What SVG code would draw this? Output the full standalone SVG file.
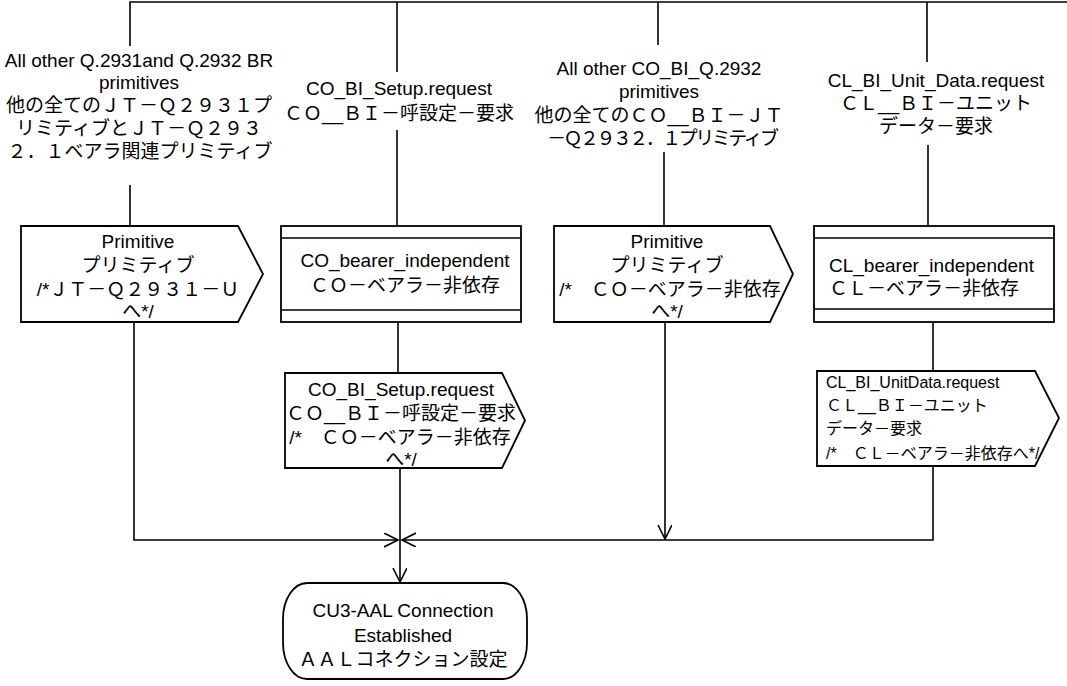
<svg xmlns="http://www.w3.org/2000/svg" width="1067" height="686" viewBox="0 0 1067 686">
<style>
.ln{stroke:#000;stroke-width:1.6;fill:none}
.sh{fill:#fff;stroke:#000;stroke-width:1.8}
text{font-family:"Liberation Sans","Noto Sans CJK JP",sans-serif;font-size:19px;fill:#000}
.c{text-anchor:middle}
.s{font-size:16px}
</style>
<defs>
<marker id="ah" markerWidth="16" markerHeight="16" refX="14" refY="7" orient="auto" markerUnits="userSpaceOnUse">
<path d="M0,0 L14,7 L0,14" fill="none" stroke="#000" stroke-width="1.6"/>
</marker>
</defs>
<rect width="1067" height="686" fill="#fff"/>
<g id="connectors">
<path class="ln" d="M130,46 V2 H1067"/>
<path class="ln" d="M397,2 V72"/>
<path class="ln" d="M658,2 V45"/>
<path class="ln" d="M927,2 V62"/>
<path class="ln" d="M130,185 V226"/>
<path class="ln" d="M397,130 V226"/>
<path class="ln" d="M664,152 V226"/>
<path class="ln" d="M928,145 V226"/>
<path class="ln" d="M134,322 V540 H398" marker-end="url(#ah)"/>
<path class="ln" d="M398,322 V373"/>
<path class="ln" d="M400,468 V582" marker-end="url(#ah)"/>
<path class="ln" d="M665,322 V539" marker-end="url(#ah)"/>
<path class="ln" d="M933,322 V371"/>
<path class="ln" d="M933,466 V540 H402" marker-end="url(#ah)"/>
</g>
<g id="in1">
<text class="c" x="139" y="66.5">All other Q.2931and Q.2932 BR</text>
<text class="c" x="139" y="89">primitives</text>
<text class="c" x="139" y="112">他の全てのＪＴ－Ｑ２９３１プ</text>
<text class="c" x="139" y="135">リミティブとＪＴ－Ｑ２９３</text>
<text class="c" x="140" y="158">２．１ベアラ関連プリミティブ</text>
</g>
<g id="in2">
<text class="c" x="399" y="95">CO_BI_Setup.request</text>
<text class="c" x="399" y="120">ＣＯ__ＢＩ－呼設定－要求</text>
</g>
<g id="in3">
<text class="c" x="659" y="75">All other CO_BI_Q.2932</text>
<text class="c" x="659" y="98">primitives</text>
<text class="c" x="659" y="122">他の全てのＣＯ__ＢＩ－ＪＴ</text>
<text class="c" x="663" y="145" textLength="232" lengthAdjust="spacing">－Ｑ２９３２．１プリミティブ</text>
</g>
<g id="in4">
<text class="c" x="936" y="86.5">CL_BI_Unit_Data.request</text>
<text class="c" x="936" y="110">ＣＬ__ＢＩ－ユニット</text>
<text class="c" x="936" y="133">データ－要求</text>
</g>
<g id="out1">
<path class="sh" d="M21,226 H238 L263,274 L238,322 H21 Z"/>
<text class="c" x="138" y="248">Primitive</text>
<text class="c" x="138" y="272">プリミティブ</text>
<text class="c" x="138" y="296">/*ＪＴ－Ｑ２９３１－Ｕ</text>
<text class="c" x="138" y="318">へ*/</text>
</g>
<g id="proc1">
<rect class="sh" x="281" y="226" width="240" height="96"/>
<path class="ln" d="M281,238 H521 M281,310 H521"/>
<text class="c" x="405" y="267">CO_bearer_independent</text>
<text class="c" x="405" y="292">ＣＯ－ベアラ－非依存</text>
</g>
<g id="out2">
<path class="sh" d="M285,373 H502 L525,420.5 L502,468 H285 Z"/>
<text class="c" x="401" y="396">CO_BI_Setup.request</text>
<text class="c" x="401" y="420">ＣＯ__ＢＩ－呼設定－要求</text>
<text class="c" x="400" y="444">/*　ＣＯ－ベアラ－非依存</text>
<text class="c" x="401" y="466">へ*/</text>
</g>
<g id="out3">
<path class="sh" d="M554,226 H770 L793,274 L770,322 H554 Z"/>
<text class="c" x="667" y="248">Primitive</text>
<text class="c" x="667" y="272">プリミティブ</text>
<text class="c" x="670" y="296">/*　ＣＯ－ベアラ－非依存</text>
<text class="c" x="667" y="318">へ*/</text>
</g>
<g id="proc2">
<rect class="sh" x="814" y="226" width="240" height="96"/>
<path class="ln" d="M814,238 H1054 M814,309 H1054"/>
<text x="829" y="271.5">CL_bearer_independent</text>
<text x="829" y="295">ＣＬ－ベアラ－非依存</text>
</g>
<g id="out4">
<path class="sh" d="M817,371 H1035 L1059,418 L1035,466 H817 Z"/>
<text class="s" x="826" y="388">CL_BI_UnitData.request</text>
<text class="s" x="826" y="411">ＣＬ__ＢＩ－ユニット</text>
<text class="s" x="826" y="434">データ－要求</text>
<text class="s" x="826" y="459">/*　ＣＬ－ベアラ－非依存へ*/</text>
</g>
<g id="state">
<rect class="sh" x="283" y="583" width="244" height="96" rx="24" ry="36"/>
<text class="c" x="403" y="617">CU3-AAL Connection</text>
<text class="c" x="403" y="642">Established</text>
<text class="c" x="403" y="666">ＡＡＬコネクション設定</text>
</g>
</svg>
